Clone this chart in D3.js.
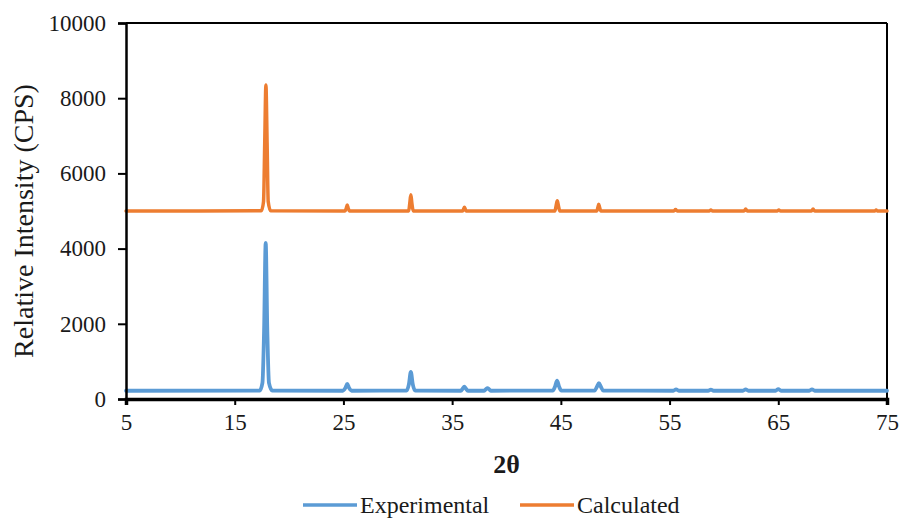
<!DOCTYPE html>
<html>
<head>
<meta charset="utf-8">
<script src="https://cdn.jsdelivr.net/npm/d3@7/dist/d3.min.js"></script>
<style>
  html, body { margin: 0; padding: 0; background: #fff; }
  svg { display: block; }
  text { font-family: "Liberation Serif", "Times New Roman", serif; fill: #1a1a1a; }
</style>
</head>
<body>
<svg id="chart" width="901" height="519"></svg>
<script>
// Powder diffraction patterns: [2θ (deg), intensity (CPS)]
const experimental = [
  [5, 220], [17.3, 225], [17.55, 430], [17.7, 1800], [17.85, 4150], [18.0, 1800], [18.15, 430], [18.45, 225],
  [24.95, 220], [25.18, 295], [25.35, 400], [25.52, 295], [25.75, 220],
  [30.8, 222], [31.02, 390], [31.2, 720], [31.38, 390], [31.6, 222],
  [35.8, 220], [35.98, 280], [36.12, 330], [36.26, 280], [36.45, 220],
  [37.95, 220], [38.12, 265], [38.25, 290], [38.38, 265], [38.55, 220],
  [44.25, 222], [44.47, 335], [44.65, 490], [44.83, 335], [45.05, 222],
  [48.1, 222], [48.32, 325], [48.5, 420], [48.68, 325], [48.9, 222],
  [55.35, 220], [55.6, 255], [55.85, 220],
  [58.55, 220], [58.8, 250], [59.05, 220],
  [61.75, 220], [62.0, 255], [62.25, 220],
  [64.75, 220], [65.0, 265], [65.25, 220],
  [67.85, 220], [68.1, 258], [68.35, 220],
  [75, 220]
];

const calculated = [
  [5, 5000], [17.45, 5005], [17.65, 5250], [17.76, 6800], [17.87, 8350], [17.98, 6800], [18.08, 5250], [18.3, 5005],
  [25.15, 5000], [25.27, 5080], [25.35, 5160], [25.43, 5080], [25.55, 5000],
  [31.0, 5000], [31.1, 5200], [31.2, 5430], [31.3, 5200], [31.42, 5000],
  [35.95, 5000], [36.07, 5060], [36.13, 5100], [36.19, 5060], [36.3, 5000],
  [44.45, 5000], [44.57, 5150], [44.67, 5270], [44.77, 5150], [44.9, 5000],
  [48.3, 5000], [48.41, 5100], [48.48, 5180], [48.56, 5100], [48.68, 5000],
  [55.4, 5000], [55.55, 5040], [55.7, 5000],
  [58.65, 5000], [58.8, 5025], [58.95, 5000],
  [61.85, 5000], [62.0, 5050], [62.15, 5000],
  [64.9, 5000], [65.05, 5025], [65.2, 5000],
  [68.05, 5000], [68.2, 5050], [68.35, 5000],
  [73.9, 5000], [74.0, 5025], [74.1, 5000],
  [75, 5000]
];

const xTicks = [5, 15, 25, 35, 45, 55, 65, 75];
const yTicks = [0, 2000, 4000, 6000, 8000, 10000];
const seriesNames = ["Experimental", "Calculated"];
const seriesColors = ["#5b9bd5", "#ed7d31"];
const seriesWidths = [3.8, 3.5];

const svg = d3.select("#chart");
const margin = { top: 23, right: 14, bottom: 120, left: 126 };
const width = 901 - margin.left - margin.right;
const height = 519 - margin.top - margin.bottom;

const x = d3.scaleLinear().domain([5, 75]).range([0, width]);
const y = d3.scaleLinear().domain([0, 10000]).range([height, 0]);

const g = svg.append("g").attr("transform", `translate(${margin.left},${margin.top})`);

// Frame: top and right edges
g.append("line").attr("x1", 0).attr("x2", width).attr("y1", 0).attr("y2", 0)
  .attr("stroke", "#000").attr("stroke-width", 2);
g.append("line").attr("x1", width).attr("x2", width).attr("y1", 0).attr("y2", height)
  .attr("stroke", "#000").attr("stroke-width", 2);

// Traces
const line = d3.line()
  .x(d => x(d[0]))
  .y(d => y(d[1]))
  .curve(d3.curveMonotoneX);

[experimental, calculated].forEach((data, i) => {
  g.append("path")
    .datum(data)
    .attr("fill", "none")
    .attr("stroke", seriesColors[i])
    .attr("stroke-width", seriesWidths[i])
    .attr("stroke-linejoin", "round")
    .attr("stroke-linecap", "round")
    .attr("d", line);
});

// Axes
const xAxis = g.append("g")
  .attr("transform", `translate(0,${height})`)
  .call(d3.axisBottom(x).tickValues(xTicks).tickSize(6).tickPadding(9).tickFormat(d3.format("d")));
const yAxis = g.append("g")
  .call(d3.axisLeft(y).tickValues(yTicks).tickSize(8).tickPadding(12).tickFormat(d3.format("d")));

[xAxis, yAxis].forEach(a => {
  a.select(".domain").attr("stroke", "#000").attr("stroke-width", 2.5);
  a.selectAll(".tick line").attr("stroke", "#000").attr("stroke-width", 2);
  a.selectAll(".tick text").attr("font-size", 23).attr("font-family", "Liberation Serif, serif").attr("fill", "#1a1a1a");
});
xAxis.select(".domain").attr("stroke-width", 3.5);

// Axis titles
svg.append("text")
  .attr("x", margin.left + x(40))
  .attr("y", 473)
  .attr("text-anchor", "middle")
  .attr("font-size", 26)
  .attr("font-weight", "bold")
  .text("2θ");

svg.append("text")
  .attr("transform", `translate(33,${221}) rotate(-90)`)
  .attr("text-anchor", "middle")
  .attr("font-size", 28)
  .text("Relative Intensity (CPS)");

// Legend
const legend = svg.append("g").attr("transform", "translate(303,505)");
const legendOffsets = [0, 217];
seriesNames.forEach((name, i) => {
  const item = legend.append("g").attr("transform", `translate(${legendOffsets[i]},0)`);
  item.append("line").attr("x1", 0).attr("x2", 54).attr("y1", 0).attr("y2", 0)
    .attr("stroke", seriesColors[i]).attr("stroke-width", 3.5);
  item.append("text").attr("x", 57).attr("y", 8).attr("font-size", 24).text(name);
});
</script>
</body>
</html>
